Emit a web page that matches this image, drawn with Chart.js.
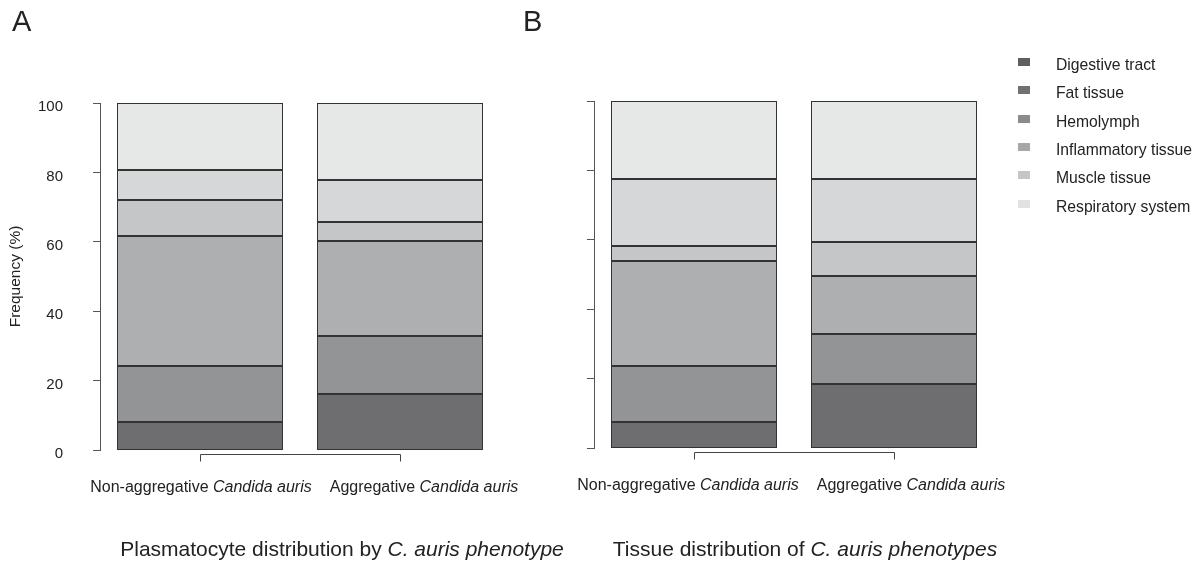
<!DOCTYPE html>
<html>
<head>
<meta charset="utf-8">
<script src="https://cdn.jsdelivr.net/npm/chart.js@4"></script>
<style>
    body { margin: 0; background: #fff; font-family: "Liberation Sans", Arial, sans-serif; color: #222; }
    #wrap { position: relative; width: 1200px; height: 562px; overflow: hidden; }
    canvas { position: absolute; left: 0; top: 0; }
    .letter { position: absolute; top: 5px; font-size: 29px; }
    .title { position: absolute; top: 537px; font-size: 21px; white-space: nowrap; transform: translateX(-50%); }
    .leg { position: absolute; left: 1018px; font-size: 15.7px; line-height: 18px; white-space: nowrap; }
    .leg span { display: inline-block; width: 12px; height: 8px; margin-right: 26px; vertical-align: 4px; }
</style>
</head>
<body>
<div id="wrap">
    <canvas id="chart-a" width="1200" height="562"></canvas>
    <canvas id="chart-b" width="1200" height="562"></canvas>
    <div class="letter" style="left:12px">A</div>
    <div class="letter" style="left:523px">B</div>
    <div class="title" style="left:342px">Plasmatocyte distribution by <i>C. auris phenotype</i></div>
    <div class="title" style="left:805px">Tissue distribution of <i>C. auris phenotypes</i></div>
    <div id="legend"></div>
</div>
<script>
const groups = ['Non-aggregative', 'Aggregative'];
const tissues = ['Digestive tract', 'Fat tissue', 'Hemolymph', 'Inflammatory tissue', 'Muscle tissue', 'Respiratory system'];

// frequency (%) per tissue, [non-aggregative, aggregative]
const plasmaDigestive = [8.0, 16.1];
const plasmaFat = [16.2, 16.8];
const plasmaHemolymph = [37.4, 27.4];
const plasmaInflammatory = [10.5, 5.5];
const plasmaMuscle = [8.7, 11.9];
const plasmaRespiratory = [19.2, 22.3];

const tissueDigestive = [7.5, 18.4];
const tissueFat = [16.2, 14.5];
const tissueHemolymph = [30.2, 16.7];
const tissueInflammatory = [4.3, 9.9];
const tissueMuscle = [19.3, 18.0];
const tissueRespiratory = [22.5, 22.5];

const yTicks = [0, 20, 40, 60, 80, 100];

const barColors = ['#6e6e70', '#939496', '#aeafb1', '#c5c6c8', '#d6d7d9', '#e6e7e7'];
const legendColors = ['#5f5f61', '#717173', '#8b8b8d', '#a6a7a8', '#c4c5c6', '#e1e2e3'];

const FONT = '"Liberation Sans", Arial, sans-serif';

// legend
const legendDiv = document.getElementById('legend');
tissues.forEach((name, i) => {
    const row = document.createElement('div');
    row.className = 'leg';
    row.style.top = (56 + i * 28.3) + 'px';
    row.innerHTML = '<span style="background:' + legendColors[i] + '"></span>' + name;
    legendDiv.appendChild(row);
});

// crisp 1px outlines round each stacked segment
const segmentLines = {
    id: 'segmentLines',
    afterDatasetsDraw(chart) {
        const ctx = chart.ctx;
        ctx.save();
        ctx.strokeStyle = '#333335';
        ctx.lineWidth = 1;
        chart.data.datasets.forEach((ds, i) => {
            chart.getDatasetMeta(i).data.forEach(bar => {
                const p = bar.getProps(['x', 'y', 'base', 'width'], true);
                const l = Math.round(p.x - p.width / 2) + 0.5;
                const r = Math.round(p.x + p.width / 2) - 0.5;
                const t = Math.round(p.y) + 0.5;
                const b = Math.round(p.base) - 0.5;
                ctx.strokeRect(l, t, r - l, b - t);
            });
        });
        ctx.restore();
    }
};

// bracket-style x axis with mixed italic labels
const bracketAxis = {
    id: 'bracketAxis',
    afterDraw(chart, args, opts) {
        const ctx = chart.ctx;
        const x = chart.scales.x;
        const yBase = Math.round(chart.chartArea.bottom) + 4.5;
        const x0 = Math.round(x.getPixelForValue(0)) + 0.5;
        const x1 = Math.round(x.getPixelForValue(1)) + 0.5;
        ctx.save();
        ctx.strokeStyle = '#444';
        ctx.lineWidth = 1;
        ctx.beginPath();
        ctx.moveTo(x0, yBase + 7);
        ctx.lineTo(x0, yBase);
        ctx.lineTo(x1, yBase);
        ctx.lineTo(x1, yBase + 7);
        ctx.stroke();

        ctx.fillStyle = '#222';
        ctx.textBaseline = 'middle';
        groups.forEach((g, i) => {
            const cx = x.getPixelForValue(i) + (opts.shift ? opts.shift[i] : 0);
            const plain = g + ' ';
            const ital = 'Candida auris';
            ctx.font = '16px ' + FONT;
            const w1 = ctx.measureText(plain).width;
            ctx.font = 'italic 16px ' + FONT;
            const w2 = ctx.measureText(ital).width;
            const sx = cx - (w1 + w2) / 2;
            const ty = chart.chartArea.bottom + 38;
            ctx.font = '16px ' + FONT;
            ctx.fillText(plain, sx, ty);
            ctx.font = 'italic 16px ' + FONT;
            ctx.fillText(ital, sx + w1, ty);
        });
        ctx.restore();
    }
};

function makeChart(id, series, pad, showLabels, labelShift) {
    const ctx = document.getElementById(id).getContext('2d');
    return new Chart(ctx, {
        type: 'bar',
        data: {
            labels: groups,
            datasets: series.map((d, i) => ({
                label: tissues[i],
                data: d,
                backgroundColor: barColors[i],
                borderWidth: 0,
                barPercentage: 0.83,
                categoryPercentage: 1.0,
            })),
        },
        options: {
            responsive: false,
            animation: false,
            layout: { padding: pad },
            plugins: {
                legend: { display: false },
                tooltip: { enabled: false },
                bracketAxis: { shift: labelShift },
            },
            scales: {
                x: {
                    stacked: true,
                    display: false,
                },
                y: {
                    stacked: true,
                    min: 0,
                    max: 100,
                    afterBuildTicks: (scale) => { scale.ticks = yTicks.map(v => ({ value: v })); },
                    afterFit: (scale) => { scale.width = showLabels ? 100 : 10; },
                    grid: { drawOnChartArea: false, drawTicks: true, tickLength: 7, color: '#555' },
                    border: { display: true, color: '#555', width: 1 },
                    ticks: {
                        display: showLabels,
                        padding: 30,
                        labelOffset: 4,
                        color: '#222',
                        font: { family: FONT, size: 15 },
                    },
                    title: {
                        display: showLabels,
                        text: 'Frequency (%)',
                        color: '#222',
                        font: { family: FONT, size: 15.5 },
                        padding: { top: 6, bottom: 0 },
                    },
                },
            },
        },
        plugins: [segmentLines, bracketAxis],
    });
}

makeChart('chart-a',
    [plasmaDigestive, plasmaFat, plasmaHemolymph, plasmaInflammatory, plasmaMuscle, plasmaRespiratory],
    { left: 0, right: 700, top: 103, bottom: 112 }, true, [1, 24]);

makeChart('chart-b',
    [tissueDigestive, tissueFat, tissueHemolymph, tissueInflammatory, tissueMuscle, tissueRespiratory],
    { left: 584, right: 206, top: 101, bottom: 114 }, false, [-6, 17]);
</script>
</body>
</html>
